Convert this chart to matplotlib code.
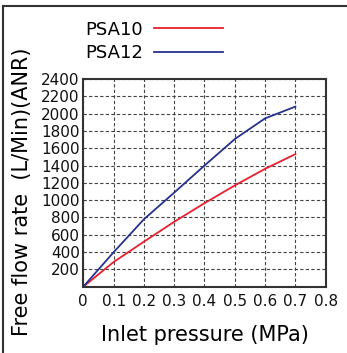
import matplotlib
matplotlib.use("Agg")
import matplotlib.pyplot as plt
from matplotlib.lines import Line2D

# inlet pressure (MPa)
pressure = [0, 0.1, 0.2, 0.3, 0.4, 0.5, 0.6, 0.7]
# free flow rate (L/min ANR)
psa10 = [0, 285, 520, 750, 965, 1170, 1362, 1532]
psa12 = [0, 398, 779, 1087, 1400, 1706, 1945, 2081]

x_ticks = [0, 0.1, 0.2, 0.3, 0.4, 0.5, 0.6, 0.7, 0.8]
x_labels = ["0", "0.1", "0.2", "0.3", "0.4", "0.5", "0.6", "0.7", "0.8"]
y_ticks = [200, 400, 600, 800, 1000, 1200, 1400, 1600, 1800, 2000, 2200, 2400]

red = "#e8202d"
blue = "#25318e"

fig = plt.figure(figsize=(3.47, 3.53), dpi=100)
ax = fig.add_axes([0.240, 0.1878, 0.6986, 0.5884])

ax.plot(pressure, psa10, color=red, lw=1.3, label="PSA10")
ax.plot(pressure, psa12, color=blue, lw=1.3, label="PSA12")

ax.set_xlim(0, 0.8)
ax.set_ylim(0, 2400)
ax.set_xticks(x_ticks)
ax.set_xticklabels(x_labels)
ax.set_yticks(y_ticks)
ax.tick_params(length=0, labelsize=11, colors="#111111")
ax.tick_params(axis="y", pad=2.5)
ax.tick_params(axis="x", pad=5)
ax.grid(True, color="#444444", ls=(0, (3, 2)), lw=0.8)
for s in ax.spines.values():
    s.set_linewidth(1.5)
    s.set_color("#333333")

ax.set_xlabel("Inlet pressure (MPa)", fontsize=15, labelpad=12)
fig.text(0.063, 0.456, "Free flow rate  (L/Min)(ANR)", rotation=90,
         fontsize=15, ha="center", va="center")

ax.legend(loc="upper left", bbox_to_anchor=(0.225, 0.962),
          bbox_transform=fig.transFigure, frameon=False, markerfirst=False,
          fontsize=13, handlelength=3.8, handletextpad=0.6, labelspacing=0.3,
          borderaxespad=0)

# outer frame (left and top only)
fig.add_artist(Line2D([0.009, 0.009], [0.0, 0.983], color="#333333", lw=1.5))
fig.add_artist(Line2D([0.009, 1.0], [0.983, 0.983], color="#333333", lw=1.5))

fig.savefig("out.png", dpi=100)
